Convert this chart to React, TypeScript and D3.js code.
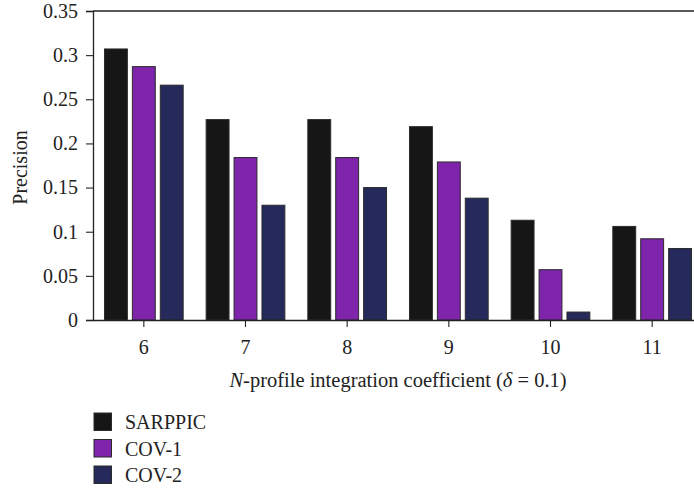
import React, { useEffect, useRef } from 'react';
import * as d3 from 'd3';

// Chart values
const categories = ['6', '7', '8', '9', '10', '11'];
const seriesNames = ['SARPPIC', 'COV-1', 'COV-2'];
const sarppic = [0.307, 0.227, 0.227, 0.219, 0.113, 0.106];
const cov1 = [0.287, 0.184, 0.184, 0.179, 0.057, 0.092];
const cov2 = [0.266, 0.130, 0.150, 0.138, 0.009, 0.081];
const yTicks = [0, 0.05, 0.1, 0.15, 0.2, 0.25, 0.3, 0.35];

const seriesColors = ['#161616', '#7e25ab', '#252a5b'];
const FONT = '"Liberation Serif", "Times New Roman", serif';
const FS = '20px';

export default function App() {
  const ref = useRef<SVGSVGElement | null>(null);

  useEffect(() => {
    document.body.style.margin = '0';
    if (!ref.current) return;
    const width = 694;
    const height = 489;
    const svg = d3.select(ref.current);
    svg.selectAll('*').remove();
    svg.attr('width', width).attr('height', height).attr('viewBox', `0 0 ${width} ${height}`);

    const values = [sarppic, cov1, cov2];
    const left = 93;
    const right = 703; // plot box runs past the right edge of the window
    const top = 11;
    const bottom = 320;

    const x0 = d3.scaleBand<string>().domain(categories).range([left, right]);
    const bw = x0.bandwidth();
    const x1 = d3.scaleBand<string>()
      .domain(seriesNames)
      .range([bw * 0.113, bw * 0.887])
      .paddingInner(0.18);
    const y = d3.scaleLinear().domain([0, 0.35]).range([bottom, top]);

    const g = svg.append('g').style('font-family', FONT);

    // Bars
    seriesNames.forEach((name, si) => {
      g.append('g')
        .selectAll('rect')
        .data(values[si])
        .enter()
        .append('rect')
        .attr('x', (_, i) => x0(categories[i])! + x1(name)!)
        .attr('y', d => y(d))
        .attr('width', x1.bandwidth())
        .attr('height', d => bottom - y(d))
        .attr('fill', seriesColors[si])
        .attr('stroke', '#2b2b2b')
        .attr('stroke-width', 1);
    });

    // Frame top line
    g.append('line')
      .attr('x1', left)
      .attr('x2', right)
      .attr('y1', top)
      .attr('y2', top)
      .attr('stroke', '#222')
      .attr('stroke-width', 1.3);

    // Y axis
    const yAxis = g.append('g')
      .attr('transform', `translate(${left},0)`)
      .call(d3.axisLeft(y).tickValues(yTicks).tickSize(7).tickPadding(8).tickFormat(d3.format('~g') as any));
    yAxis.select('.domain').attr('stroke', '#222').attr('stroke-width', 1.3);
    yAxis.selectAll('.tick line').attr('stroke', '#222').attr('stroke-width', 1.1);
    yAxis.selectAll('.tick text')
      .attr('fill', '#222')
      .style('font-family', FONT)
      .style('font-size', FS);

    // X axis
    const xAxis = g.append('g')
      .attr('transform', `translate(0,${bottom})`)
      .call(d3.axisBottom(x0).tickSize(7).tickSizeOuter(0).tickPadding(13));
    xAxis.select('.domain').attr('stroke', '#222').attr('stroke-width', 1.3);
    xAxis.selectAll('.tick line').attr('stroke', '#222').attr('stroke-width', 1.1);
    xAxis.selectAll('.tick text')
      .attr('fill', '#222')
      .style('font-family', FONT)
      .style('font-size', FS);

    // Axis titles
    const title = g.append('text')
      .attr('x', (left + right) / 2)
      .attr('y', 387)
      .attr('text-anchor', 'middle')
      .attr('fill', '#222')
      .style('font-size', '20.5px');
    title.append('tspan').attr('font-style', 'italic').text('N');
    title.append('tspan').text('-profile integration coefficient (');
    title.append('tspan').attr('font-style', 'italic').text('δ');
    title.append('tspan').text(' = 0.1)');

    g.append('text')
      .attr('transform', `translate(27,${(top + bottom) / 2 + 2}) rotate(-90)`)
      .attr('text-anchor', 'middle')
      .attr('fill', '#222')
      .style('font-size', FS)
      .text('Precision');

    // Legend
    const legend = g.append('g').attr('transform', 'translate(94,413)');
    const item = legend.selectAll('g')
      .data(seriesNames)
      .enter()
      .append('g')
      .attr('transform', (_, i) => `translate(0,${i * 26.5})`);
    item.append('rect')
      .attr('width', 17.5)
      .attr('height', 17.5)
      .attr('fill', (_, i) => seriesColors[i])
      .attr('stroke', '#2b2b2b')
      .attr('stroke-width', 1);
    item.append('text')
      .attr('x', 31)
      .attr('y', 16)
      .attr('fill', '#222')
      .style('font-size', FS)
      .text(d => d);
  }, []);

  return <svg ref={ref} style={{ display: 'block' }}></svg>;
}
